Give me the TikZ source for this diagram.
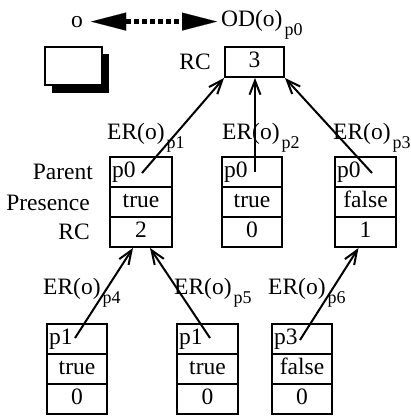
\documentclass[tikz,border=0pt]{standalone}
\usepackage{fontspec}
\setmainfont{Liberation Serif}
\usetikzlibrary{arrows.meta,calc}
\newcommand\subtx[1]{\kern2pt\raisebox{-9pt}{\fontsize{18}{18}\selectfont #1}}
\newcommand\recbox[7]{%
  \node[cell, align=left, text width=#4pt] (#1a) at (#2,#3+15) {#5};
  \node[cell, text width=#4pt] (#1b) at (#2,#3+45) {#6};
  \node[cell, text width=#4pt] (#1c) at (#2,#3+75) {#7};}
\begin{document}
\begin{tikzpicture}[x=1pt,y=-1pt,font=\fontsize{23.5}{27}\selectfont,
  cell/.style={draw,line width=1.9pt,inner xsep=2pt,inner ysep=0pt,minimum height=30pt,
    text height=16pt,text depth=5pt,align=center},
  lab/.style={inner sep=0pt},
  ptr/.style={line width=2pt,-{Straight Barb[length=14pt,width=11pt]}}]
\useasboundingbox (0,0) rectangle (411,416);
% legend
\node[lab,anchor=base] (o) at (77,27) {o};
\node[lab,anchor=base west] (od) at (221,26) {OD(o)\subtx{p0}};
\draw[line width=5pt,dash pattern=on 5pt off 3pt,
  {Triangle[length=35pt,width=18pt,line width=0.1pt]}-{Triangle[length=35pt,width=18pt,line width=0.1pt]}]
  ($(o.east)+(8,0)$) -- ($(o.east -| od.west)+(-4,0)$);
\fill (52,54) rectangle (109,93);
\draw[line width=1.9pt,fill=white] (45,47) rectangle (102,85);
% root
\node[lab,anchor=base east] (toprc) at (211,69) {RC};
\node[cell,text width=55pt] (rc) at (254.5,62) {3};
% row labels
\node[lab,anchor=base east] (lparent) at (93,179) {Parent};
\node[lab,anchor=base east] (lpres) at (90,210) {Presence};
\node[lab,anchor=base east] (lrc) at (90,239) {RC};
% records
\recbox{ba}{141}{157}{58}{p0}{true}{2}
\recbox{bb}{252}{157}{56}{p0}{true}{0}
\recbox{bc}{365.5}{157}{57}{p0}{false}{1}
\recbox{bd}{77}{324}{56}{p1}{true}{0}
\recbox{be}{207.5}{324}{57}{p1}{true}{0}
\recbox{bf}{302}{324}{56}{p3}{false}{0}
% ER labels
\node[lab,anchor=base west] (er1) at (107,139) {ER(o)\subtx{p1}};
\node[lab,anchor=base west] (er2) at (222,139) {ER(o)\subtx{p2}};
\node[lab,anchor=base west] (er3) at (333,139) {ER(o)\subtx{p3}};
\node[lab,anchor=base west] (er4) at (43,294) {ER(o)\subtx{p4}};
\node[lab,anchor=base west] (er5) at (174,294) {ER(o)\subtx{p5}};
\node[lab,anchor=base west] (er6) at (268,294) {ER(o)\subtx{p6}};
% pointers
\coordinate (s1) at (142,173);
\coordinate (s2) at (255,172);
\coordinate (s3) at (372,173);
\coordinate (s4) at (75,338);
\coordinate (s5) at (210,338);
\coordinate (s6) at (300,340);
\draw[ptr] (s1) -- (rc.south west);
\draw[ptr] (s2) -- (s2 |- rc.south);
\draw[ptr] (s3) -- (rc.south east);
\draw[ptr] (s4) -- ($(bac.south)+(-8,0)$);
\draw[ptr] (s5) -- ($(bac.south)+(9,0)$);
\draw[ptr] (s6) -- ($(bcc.south)+(-7,0)$);
\end{tikzpicture}
\end{document}
